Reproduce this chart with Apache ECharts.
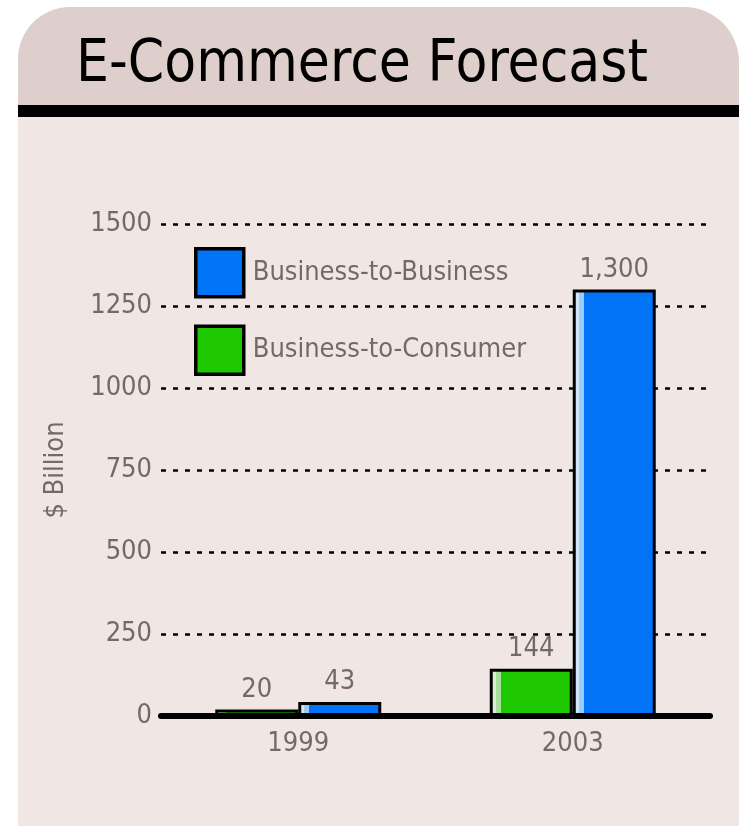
<!DOCTYPE html>
<html>
<head>
<meta charset="utf-8">
<script src="https://cdn.jsdelivr.net/npm/echarts@6/dist/echarts.min.js"></script>
<style>
	html, body { margin: 0; padding: 0; background: #fff; }
	#chart { width: 739px; height: 826px; }
</style>
</head>
<body>
<div id="chart"></div>
<script>
	'use strict';
	var years = ['1999', '2003'];
	var b2c = [20, 144];
	var b2b = [43, 1300];
	var seriesNames = ['Business-to-Consumer', 'Business-to-Business'];
	var legendOrder = ['Business-to-Business', 'Business-to-Consumer'];

	var font = "'DejaVu Sans Condensed', 'Liberation Sans Narrow', sans-serif";
	var grey = '#736968';

	function withCommas(v) {
		return String(v).replace(/\B(?=(\d{3})+(?!\d))/g, ',');
	}

	// light stripe down the left edge of each bar
	function stripe(light, mid, base) {
		return new echarts.graphic.LinearGradient(0, 0, 1, 0, [
			{ offset: 0, color: light },
			{ offset: 0.07, color: light },
			{ offset: 0.07, color: mid },
			{ offset: 0.13, color: mid },
			{ offset: 0.13, color: base },
			{ offset: 1, color: base }
		]);
	}

	var chart = echarts.init(document.getElementById('chart'));
	var option = {
		animation: false,
		textStyle: { fontFamily: font },
		graphic: [
			{
				type: 'rect', z: -10,
				shape: { x: 18, y: 7, width: 721, height: 100, r: [52, 55, 0, 0] },
				style: { fill: '#decfcc' }
			},
			{
				type: 'rect', z: -9,
				shape: { x: 18, y: 105, width: 721, height: 12 },
				style: { fill: '#000' }
			},
			{
				type: 'rect', z: -9,
				shape: { x: 18, y: 117, width: 721, height: 709 },
				style: { fill: '#f0e7e5' }
			},
			{
				type: 'text', z: -8,
				x: 362, y: 66,
				style: {
					text: 'E-Commerce Forecast',
					font: "58px " + font,
					fill: '#000',
					align: 'center',
					verticalAlign: 'middle'
				}
			}
		],
		legend: {
			orient: 'vertical',
			left: 194,
			top: 247,
			padding: 0,
			itemWidth: 48,
			itemHeight: 48,
			itemGap: 26,
			icon: 'rect',
			textStyle: { color: grey, fontSize: 27, fontFamily: font, padding: [0, 0, 0, 4] },
			data: [
				{ name: legendOrder[0], itemStyle: { color: '#0073f7', borderColor: '#000', borderWidth: 3.5 } },
				{ name: legendOrder[1], itemStyle: { color: '#1ec800', borderColor: '#000', borderWidth: 3.5 } }
			]
		},
		grid: { left: 161, right: 29, top: 224, bottom: 110 },
		xAxis: {
			type: 'category',
			data: years,
			axisLine: { lineStyle: { color: '#000', width: 6 } },
			axisTick: { show: false },
			axisLabel: { color: grey, fontSize: 27, margin: 14 }
		},
		yAxis: {
			type: 'value',
			min: 0,
			max: 1500,
			interval: 250,
			name: '$ Billion',
			nameLocation: 'middle',
			nameGap: 92,
			nameRotate: 90,
			nameTextStyle: { color: grey, fontSize: 27 },
			axisLine: { show: false },
			axisTick: { show: false },
			axisLabel: { color: grey, fontSize: 27, margin: 9, formatter: function (v) { return String(v); } },
			splitLine: { lineStyle: { color: '#000', width: 2.5, type: [5, 7] } }
		},
		series: [
			{
				name: seriesNames[0],
				type: 'bar',
				data: b2c,
				barWidth: 83,
				barGap: '0%',
				itemStyle: { color: stripe('#d8f0d0', '#a6e09a', '#1ec800'), borderColor: '#000', borderWidth: 3 },
				label: { show: true, position: 'top', distance: 6, color: grey, fontSize: 27, formatter: function (p) { return withCommas(p.value); } }
			},
			{
				name: seriesNames[1],
				type: 'bar',
				data: b2b,
				barWidth: 83,
				barGap: '0%',
				itemStyle: { color: stripe('#cfe6fb', '#99ccf7', '#0073f7'), borderColor: '#000', borderWidth: 3 },
				label: { show: true, position: 'top', distance: 6, color: grey, fontSize: 27, formatter: function (p) { return withCommas(p.value); } }
			}
		]
	};
	chart.setOption(option);
</script>
</body>
</html>
